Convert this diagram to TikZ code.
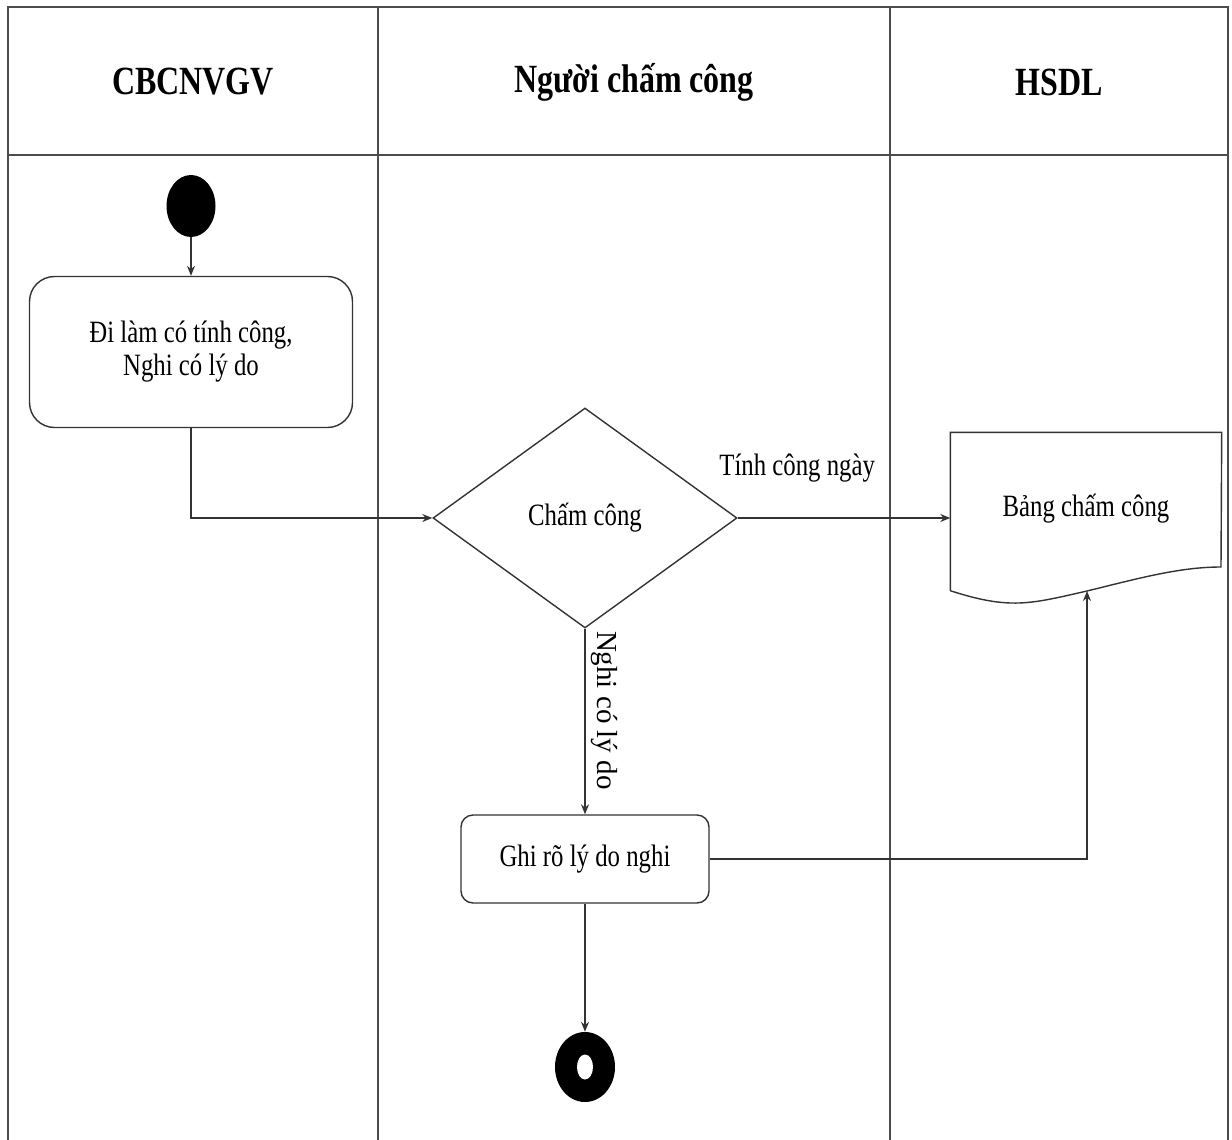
\documentclass[tikz,border=0pt]{standalone}
\usepackage{fontspec}
\setmainfont{Liberation Serif}[FakeStretch=0.8]
\newfontfamily\sideserif{Liberation Serif}
\usetikzlibrary{shapes.geometric,arrows.meta}

\begin{document}
\begin{tikzpicture}[
    x=1pt, y=-1pt,
    lane/.style={draw=black!70, line width=2.2pt},
    head/.style={
        font=\fontsize{40}{48}\selectfont\bfseries
    },
    actbox/.style={
        rectangle,
        draw=black!80,
        line width=1.4pt,
        align=center,
        font=\fontsize{31}{33}\selectfont
    },
    decide/.style={
        diamond,
        draw=black!80,
        line width=1.4pt,
        aspect=1.38,
        inner sep=0pt,
        minimum width=304pt,
        minimum height=220pt,
        font=\fontsize{31}{33}\selectfont
    },
    dot/.style={ellipse, fill=black, inner sep=0pt},
    lbl/.style={text=black, font=\fontsize{31}{33}\selectfont},
    arrow/.style={-{Stealth[length=10pt,width=8pt]}, line width=1.4pt, black!80}
]

\useasboundingbox (0,0) rectangle (1232,1140);

\draw[lane] (8,1140) -- (8,7) -- (1228,7) -- (1228,1140);
\draw[lane] (8,155) -- (1228,155);
\draw[lane] (378,7) -- (378,1140);
\draw[lane] (890,7) -- (890,1140);

\node[head] (h1) at (193,82) {CBCNVGV};
\node[head] (h2) at (634,82) {Người chấm công};
\node[head] (h3) at (1059,82) {HSDL};

\node[dot, minimum width=49pt, minimum height=62pt] (start) at (191,206) {};

\node[actbox, rounded corners=25pt, minimum width=323pt, minimum height=151pt] (dilam) at (191,352)
    {Đi làm có tính công,\\Nghi có lý do};

\node[decide] (cham) at (585,518) {Chấm công};

\node[actbox, draw=none, minimum width=270pt, minimum height=157pt] (bang) at (1086,511.5)
    {\raisebox{12pt}{Bảng chấm công}};
\draw[black!80, line width=1.4pt] (bang.south west) -- (bang.north west) -- (bang.north east)
    -- (1221,567) .. controls (1180,567) and (1140,578) .. (1087,591)
    .. controls (1030,604) and (1010,610) .. (bang.south west);
\coordinate (wave) at (1087,591);

\node[actbox, rounded corners=12pt, minimum width=248pt, minimum height=88pt] (ghi) at (585,859)
    {Ghi rõ lý do nghi};

\node[dot, minimum width=60pt, minimum height=70pt] (endo) at (585,1067) {};
\node[ellipse, fill=white, inner sep=0pt, minimum width=16pt, minimum height=25pt] (endi) at (585,1067) {};

\draw[arrow] (start) -- (dilam);
\draw[arrow] (dilam.south) |- (cham.west);
\draw[arrow] (cham.east) -- (cham.east -| bang.west)
    node[lbl, pos=0.28, above=32pt] (ngay) {Tính công ngày};
\draw[arrow] (cham.south) -- (ghi.north)
    node[lbl, pos=0.44, anchor=south, inner sep=6pt, rotate=-90, font=\sideserif\fontsize{29}{33}\selectfont] (nghi) {Nghi có lý do};
\draw[arrow] (ghi.east) -| (wave);
\draw[arrow] (ghi.south) -- (endo.north);

\end{tikzpicture}
\end{document}
